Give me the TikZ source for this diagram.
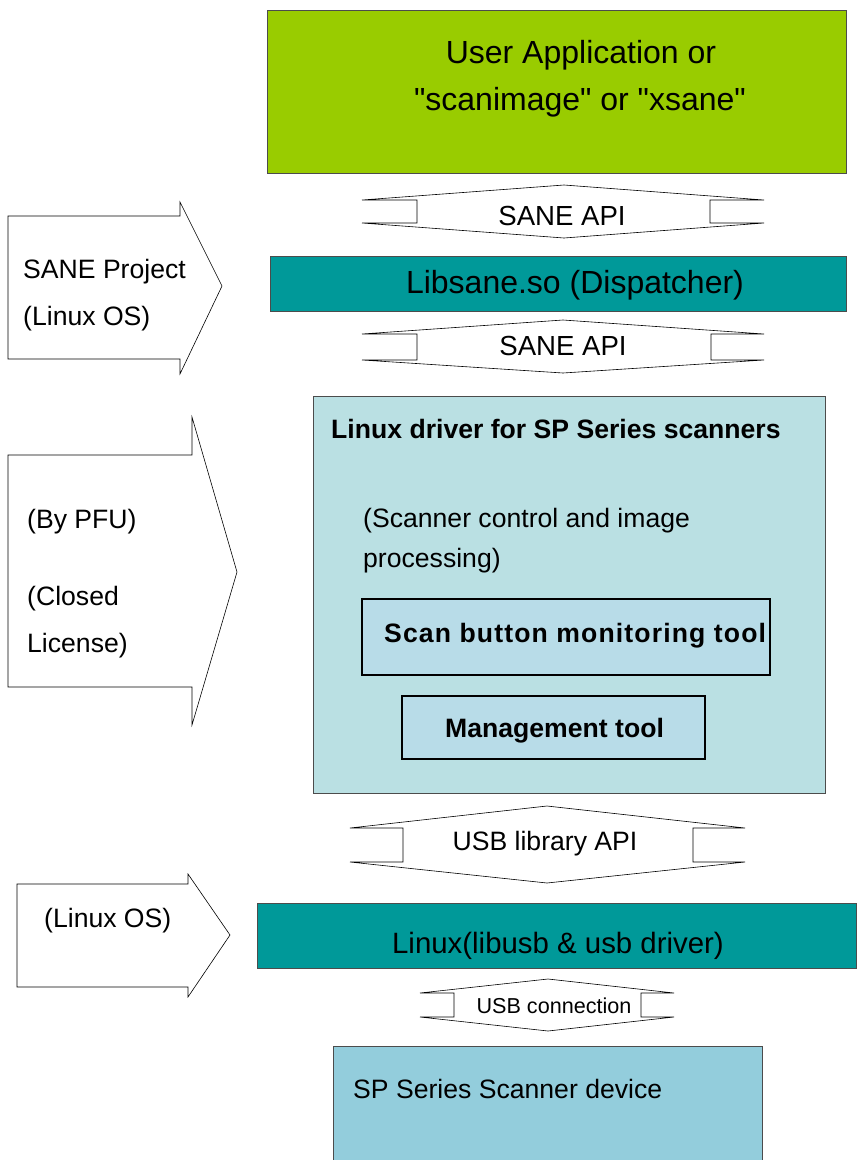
\documentclass[tikz,border=0pt]{standalone}
\usepackage{fontspec}
\setmainfont{Liberation Sans}
\newfontfamily\straightq{Liberation Sans}[Ligatures=TeXOff]
\definecolor{appgreen}{HTML}{99CC00}
\definecolor{sanecyan}{HTML}{009999}
\definecolor{drvpale}{HTML}{BAE0E3}
\definecolor{toolpale}{HTML}{B8DCE8}
\definecolor{devblue}{HTML}{93CDDC}

\begin{document}
\begin{tikzpicture}[x=1pt, y=-1pt,
        box/.style={draw=black!70, line width=0.8pt},
        toolbox/.style={draw=black, line width=1.6pt, fill=toolpale},
        shape line/.style={draw=black, line width=0.6pt, fill=white},
        lbl/.style={inner sep=0pt, font=\fontsize{26.6}{31}\selectfont},
        biglbl/.style={inner sep=0pt, font=\fontsize{32}{38}\selectfont},
        boldlbl/.style={inner sep=0pt, font=\fontsize{26.6}{31}\selectfont\bfseries}]
        \useasboundingbox (0,0) rectangle (859,1160);

        % layer boxes
        \draw[box, fill=appgreen] (267,10) rectangle (846,173);
        \draw[box, fill=sanecyan] (270,256) rectangle (846,311);
        \draw[box, fill=drvpale] (313,396) rectangle (825,793);
        \draw[toolbox] (362,599) rectangle (770,675);
        \draw[toolbox] (402,696) rectangle (705,759);
        \draw[box, fill=sanecyan] (257,903) rectangle (856,968);
        \draw[box, fill=devblue] (333,1046) rectangle (762,1162);

        % up-down arrows between the layers
        \foreach \xl/\xs/\xt/\xq/\xr/\yt/\ya/\yb/\yc in {
                362/417/564/710/764/185/200/223/238,
                362/417/563/711/764/320/334/360/373,
                350/403/547/693/745/806/828/862/883,
                420/454/548/641/674/979/993/1017/1031} {
            \draw[shape line] (\xt,\yt) -- (\xr,\ya) -- (\xq,\ya) -- (\xq,\yb) -- (\xr,\yb)
                -- (\xt,\yc) -- (\xl,\yb) -- (\xs,\yb) -- (\xs,\ya) -- (\xl,\ya) -- cycle;
        }

        % block arrows on the left
        \foreach \xl/\bt/\bb/\hx/\ht/\hb/\tx/\ty in {
                8/216/359/180/202/374/222/286,
                8/455/687/192/417/725/237/572,
                17/884/987/188/874/997/230/935} {
            \draw[shape line] (\xl,\bt) -- (\hx,\bt) -- (\hx,\ht) -- (\tx,\ty)
                -- (\hx,\hb) -- (\hx,\bb) -- (\xl,\bb) -- cycle;
        }

        % texts
        \node[biglbl, anchor=base] (appA) at (581,63) {User Application or};
        \node[biglbl, anchor=base] (appB) at (580,110) {\straightq "scanimage" or "xsane"};
        \node[lbl, font=\fontsize{27.6}{33}\selectfont, anchor=base] (apiA) at (562,225) {SANE API};
        \node[biglbl, anchor=base] (libsane) at (575,293) {Libsane.so (Dispatcher)};
        \node[lbl, font=\fontsize{27.6}{33}\selectfont, anchor=base] (apiB) at (563,355) {SANE API};
        \node[lbl, anchor=base west] (saneA) at (23,278) {SANE Project};
        \node[lbl, anchor=base west] (saneB) at (23,325) {(Linux OS)};

        \node[boldlbl, anchor=base west] (drv) at (331,438) {Linux driver for SP Series scanners};
        \node[lbl, anchor=base west] (ctrlA) at (363,527) {(Scanner control and image};
        \node[lbl, anchor=base west] (ctrlB) at (363,567) {processing)};
        \node[boldlbl, anchor=base west] (btntool) at (384,642)
            {\addfontfeatures{LetterSpace=4.2}Scan button monitoring tool};
        \node[boldlbl, anchor=base west] (mgmttool) at (445,737) {Management tool};
        \node[lbl, anchor=base west] (pfuA) at (27,528) {(By PFU)};
        \node[lbl, anchor=base west] (pfuB) at (27,605) {(Closed};
        \node[lbl, anchor=base west] (pfuC) at (27,652) {License)};

        \node[lbl, anchor=base] (usbapi) at (545,850) {USB library API};
        \node[lbl, anchor=base west] (linos) at (44,927) {(Linux OS)};
        \node[lbl, font=\fontsize{29.4}{35}\selectfont, anchor=base] (libusb) at (558,953) {Linux(libusb \& usb driver)};
        \node[lbl, font=\fontsize{21.6}{26}\selectfont, anchor=base] (usbconn) at (554,1013) {USB connection};
        \node[lbl, anchor=base west] (device) at (353,1098) {SP Series Scanner device};
    \end{tikzpicture}
\end{document}
